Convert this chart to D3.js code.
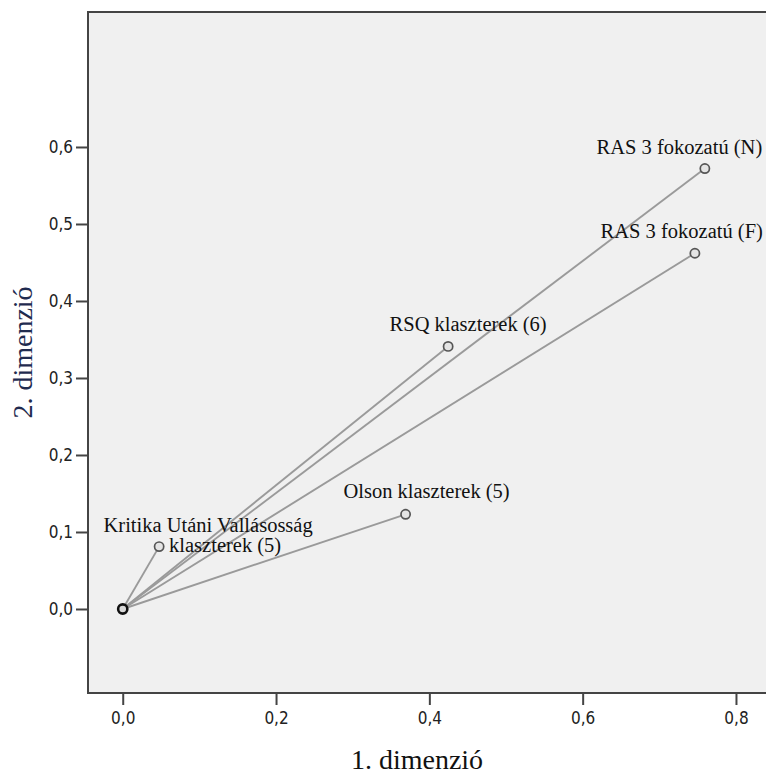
<!DOCTYPE html>
<html>
<head>
<meta charset="utf-8">
<script src="https://cdn.jsdelivr.net/npm/d3@7"></script>
<style>
  html, body { margin: 0; padding: 0; background: #ffffff; }
  svg { display: block; }
  .tick text { font-family: "DejaVu Sans Condensed", "DejaVu Sans", sans-serif; font-stretch: condensed; font-size: 17px; fill: #222; }
  .lbl { font-family: "Liberation Serif", "Times New Roman", serif; font-size: 20.5px; fill: #111; }
  .title { font-family: "Liberation Serif", "Times New Roman", serif; font-size: 28px; }
</style>
</head>
<body>
<svg id="chart" width="766" height="775"></svg>
<script>
// Joint plot of category points: each variable's discrimination vector from the origin
const variables = [
  "Kritika Utáni Vallásosság klaszterek (5)",
  "Olson klaszterek (5)",
  "RSQ klaszterek (6)",
  "RAS 3 fokozatú (F)",
  "RAS 3 fokozatú (N)"
];
const dim1 = [0.0475, 0.369, 0.4245, 0.7464, 0.7594];
const dim2 = [0.081, 0.123, 0.341, 0.462, 0.572];

// Label text broken into lines as printed
const labelLines = [
  ["Kritika Utáni Vallásosság", "klaszterek (5)"],
  ["Olson klaszterek (5)"],
  ["RSQ klaszterek (6)"],
  ["RAS 3 fokozatú (F)"],
  ["RAS 3 fokozatú (N)"]
];

const xTicks = [0.0, 0.2, 0.4, 0.6, 0.8];
const yTicks = [0.0, 0.1, 0.2, 0.3, 0.4, 0.5, 0.6];
const fmt = v => v.toFixed(1).replace(".", ",");

// Label placement relative to each point (pixels): anchor, dx, dy per line
const labelPlacement = [
  [{anchor: "middle", dx: 49, dy: -14.5}, {anchor: "middle", dx: 66, dy: 5.5}],
  [{anchor: "middle", dx: 21, dy: -16}],
  [{anchor: "middle", dx: 20, dy: -15}],
  [{anchor: "start", dx: -94.3, dy: -15}],
  [{anchor: "start", dx: -108.3, dy: -15}]
];

const svg = d3.select("#chart");
const m = {left: 88, top: 12, bottom: 693, right: 794};

const x = d3.scaleLinear().domain([-0.0453, 0.8757]).range([m.left, m.right]);
const y = d3.scaleLinear().domain([-0.1091, 0.7753]).range([m.bottom, m.top]);

// plot background
svg.append("rect")
  .attr("x", m.left).attr("y", m.top)
  .attr("width", m.right - m.left).attr("height", m.bottom - m.top)
  .attr("fill", "#f0f0f0");

// frame top edge
svg.append("line")
  .attr("x1", m.left).attr("x2", m.right)
  .attr("y1", m.top).attr("y2", m.top)
  .attr("stroke", "#444").attr("stroke-width", 2);

// axes
const xAxis = d3.axisBottom(x).tickValues(xTicks).tickFormat(fmt).tickSize(12).tickPadding(7);
const yAxis = d3.axisLeft(y).tickValues(yTicks).tickFormat(fmt).tickSize(12).tickPadding(3);

const gx = svg.append("g").attr("transform", `translate(0,${m.bottom})`).call(xAxis);
const gy = svg.append("g").attr("transform", `translate(${m.left},0)`).call(yAxis);
[gx, gy].forEach(g => {
  g.select(".domain").remove();
  g.selectAll(".tick line").attr("stroke", "#444").attr("stroke-width", 2);
});
// axis lines
svg.append("line").attr("x1", m.left).attr("x2", m.left).attr("y1", m.top - 1).attr("y2", m.bottom + 1)
  .attr("stroke", "#444").attr("stroke-width", 2);
svg.append("line").attr("x1", m.left - 1).attr("x2", m.right).attr("y1", m.bottom).attr("y2", m.bottom)
  .attr("stroke", "#444").attr("stroke-width", 2);

const pts = variables.map((name, i) => ({name, x: dim1[i], y: dim2[i], i}));

// vectors from origin
svg.append("g").selectAll("line").data(pts).join("line")
  .attr("x1", x(0)).attr("y1", y(0))
  .attr("x2", d => x(d.x)).attr("y2", d => y(d.y))
  .attr("stroke", "#9a9a9a").attr("stroke-width", 1.9);

// origin marker
svg.append("circle")
  .attr("cx", x(0)).attr("cy", y(0)).attr("r", 4.6)
  .attr("fill", "#d8d8d8").attr("stroke", "#111").attr("stroke-width", 2.6);

// end points
svg.append("g").selectAll("circle").data(pts).join("circle")
  .attr("cx", d => x(d.x)).attr("cy", d => y(d.y)).attr("r", 4.6)
  .attr("fill", "#e4e4e4").attr("stroke", "#555").attr("stroke-width", 1.7);

// labels
const lg = svg.append("g");
pts.forEach(d => {
  labelLines[d.i].forEach((t, k) => {
    const p = labelPlacement[d.i][k];
    lg.append("text").attr("class", "lbl")
      .attr("x", x(d.x) + p.dx).attr("y", y(d.y) + p.dy)
      .attr("text-anchor", p.anchor)
      .text(t);
  });
});

// axis titles
svg.append("text").attr("class", "title")
  .attr("x", 417).attr("y", 769)
  .attr("text-anchor", "middle").attr("fill", "#111")
  .text("1. dimenzió");
svg.append("text").attr("class", "title")
  .attr("transform", `translate(32,${(m.top + m.bottom) / 2}) rotate(-90)`)
  .attr("text-anchor", "middle").attr("fill", "#1f2b4f")
  .text("2. dimenzió");
</script>
</body>
</html>
